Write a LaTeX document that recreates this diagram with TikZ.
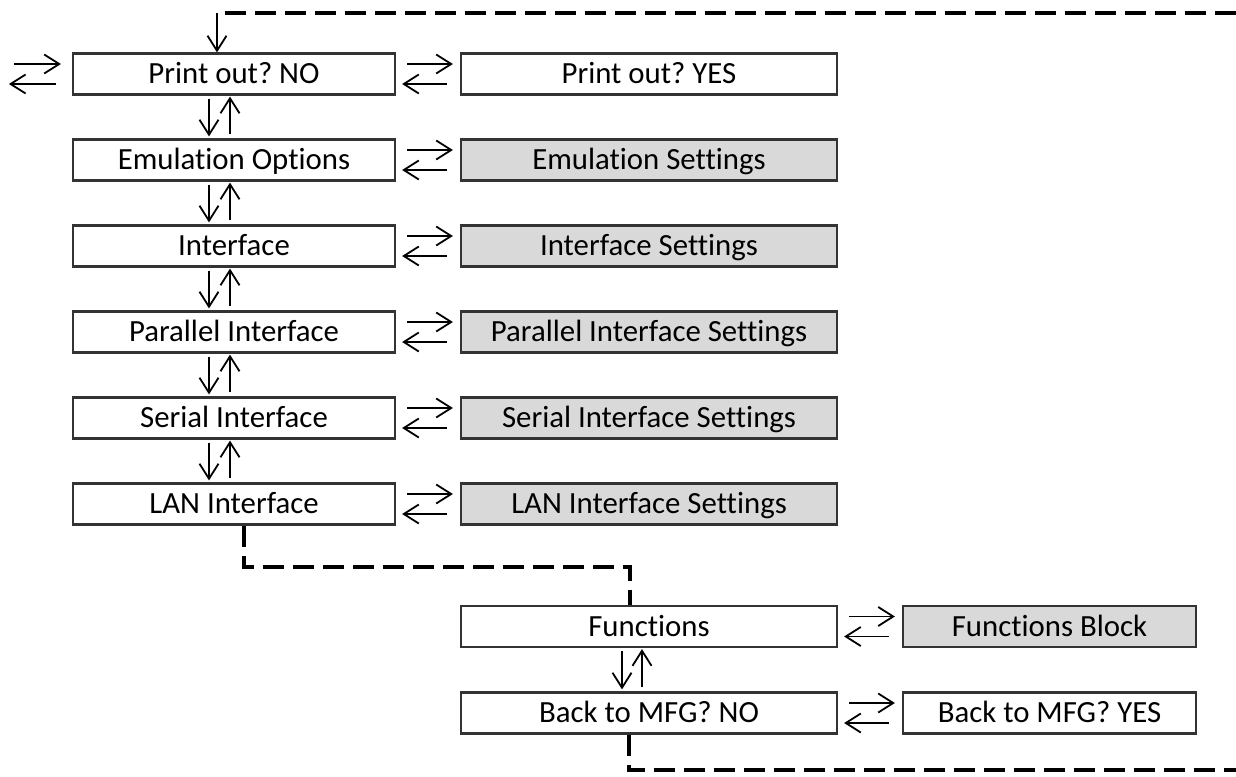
\documentclass[tikz,border=0pt]{standalone}
\usepackage{fontspec}
\setmainfont{Carlito}[Ligatures=NoCommon]
\frenchspacing
\usetikzlibrary{arrows.meta,positioning,calc}

\begin{document}
\begin{tikzpicture}[x=1pt,y=-1pt,font=\fontsize{30.8}{36}\selectfont,
  >={Straight Barb[length=15pt,width=19pt]},
  menubox/.style={draw=black!80,line width=2.2pt,minimum height=41pt,inner sep=0pt,
    text height=24pt,text depth=4.2pt},
  leftbox/.style={menubox,minimum width=322pt},
  rightbox/.style={menubox,minimum width=376pt},
  setbox/.style={rightbox,fill=gray!30},
  jump/.style={line width=4pt,dash pattern=on 21pt off 9pt},
  pair/.style={line width=1.8pt}]
\useasboundingbox (0,0) rectangle (1236,776);
% menu column
\node[leftbox] (pno) at (234,74) {Print out? NO};
\node[rightbox] (pyes) at (649,74) {Print out? YES};
\node[leftbox] (emu) at (234,160) {Emulation Options};
\node[setbox] (emuset) at (649,160) {Emulation Settings};
\node[leftbox] (intf) at (234,246) {Interface};
\node[setbox] (intfset) at (649,246) {Interface Settings};
\node[leftbox] (par) at (234,332) {Parallel Interface};
\node[setbox] (parset) at (649,332) {Parallel Interface Settings};
\node[leftbox] (ser) at (234,418) {Serial Interface};
\node[setbox] (serset) at (649,418) {Serial Interface Settings};
\node[leftbox] (lan) at (234,504) {LAN Interface};
\node[setbox] (lanset) at (649,504) {LAN Interface Settings};
\node[rightbox] (fun) at (649,626.5) {Functions};
\node[setbox,minimum width=293pt] (funset) at (1049.5,626.5) {Functions Block};
\node[rightbox] (mfg) at (649,713) {Back to MFG? NO};
\node[menubox,minimum width=293pt] (mfgyes) at (1049.5,713) {Back to MFG? YES};
% left and right
\foreach \a/\b in {pno/pyes,emu/emuset,intf/intfset,par/parset,ser/serset,lan/lanset,fun/funset,mfg/mfgyes}{
  \draw[pair,->] ([xshift=11pt,yshift=10pt]\a.east) -- ([xshift=-7pt,yshift=10pt]\b.west);
  \draw[pair,->] ([xshift=-13pt,yshift=-10pt]\b.west) -- ([xshift=6pt,yshift=-10pt]\a.east);
}
\draw[pair,->] ([xshift=-58pt,yshift=10pt]pno.west) -- ([xshift=-11pt,yshift=10pt]pno.west);
\draw[pair,->] ([xshift=-16pt,yshift=-10pt]pno.west) -- ([xshift=-63pt,yshift=-10pt]pno.west);
% up and down
\foreach \a/\b in {pno/emu,emu/intf,intf/par,par/ser,ser/lan}{
  \draw[pair,->] ([xshift=-25pt,yshift=-3pt]\a.south) -- ([xshift=-25pt,yshift=2pt]\b.north);
  \draw[pair,->] ([xshift=-4pt,yshift=4pt]\b.north) -- ([xshift=-4pt,yshift=-1pt]\a.south);
}
\draw[pair,->] ([xshift=-27pt,yshift=-3pt]fun.south) -- ([xshift=-27pt,yshift=2pt]mfg.north);
\draw[pair,->] ([xshift=-7pt,yshift=4pt]mfg.north) -- ([xshift=-7pt,yshift=-1pt]fun.south);
% dashed jumps
\coordinate (topin) at (217,13);
\coordinate (topout) at (1236,13);
\coordinate (botout) at (1236,770);
\draw[jump] (topout) -- (topin);
\draw[pair,->] (topin) -- (topin |- pno.north);
\draw[jump] ([xshift=10pt]lan.south) -- ++(0,41) -| ([xshift=-19pt]fun.north);
\draw[jump] ([xshift=-20pt]mfg.south) |- (botout);
\end{tikzpicture}
\end{document}
